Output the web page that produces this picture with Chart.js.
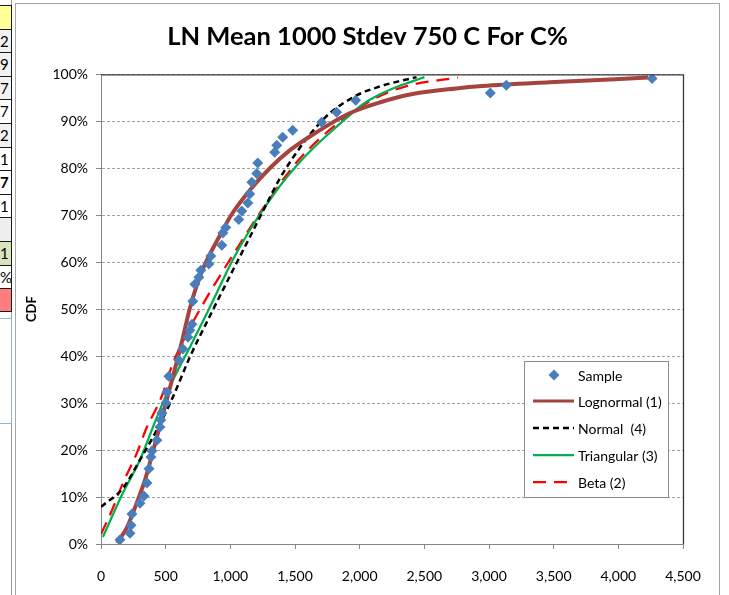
<!DOCTYPE html>
<html>
<head>
<meta charset="utf-8">
<script src="https://cdn.jsdelivr.net/npm/chart.js@4.4.1/dist/chart.umd.min.js"></script>
<style>
html,body{margin:0;padding:0;background:#fff;width:729px;height:595px;overflow:hidden;}
#sheet{position:absolute;left:0;top:5px;width:12px;}
.cell{box-sizing:border-box;height:23.6px;width:12px;border-top:1px solid #1a1a1a;border-right:1px solid #1a1a1a;overflow:hidden;font:15px Lato,"Open Sans",sans-serif;color:#000;text-align:right;padding-right:3px;line-height:22px;white-space:nowrap;}
#tbox{position:absolute;left:-1px;top:318px;width:11px;height:104px;border:1px solid #8eb1e0;background:#fff;}
#vline{position:absolute;left:11px;top:0;width:1px;height:595px;background:#9a9a9a;}
#frame{position:absolute;left:15px;top:3px;width:705px;height:600px;border:1px solid #a6a6a6;box-sizing:border-box;}
#c{position:absolute;left:0;top:0;}
</style>
</head>
<body>
<div id="vline"></div>
<div id="sheet"></div>
<div id="tbox"></div>
<div id="frame"></div>
<canvas id="c" width="729" height="595"></canvas>
<script>
// ---- spreadsheet fragment visible at the left edge ----
const sheetText = ['', '2', '9', '7', '7', '2', '1', '7', '1', '', '1', '%', ''];
const sheetFill = ['#ffff99', '#f2f2f2', '#f2f2f2', '#f2f2f2', '#ffffff', '#f2f2f2', '#ffffff', '#ffffff', '#ffffff', '#eeeeee', '#d8e4bc', '#ffffff', '#ff7c80'];
const sheetBold = [false, false, false, false, false, false, false, true, false, false, false, false, false];

// ---- chart data ----
const title = 'LN Mean 1000 Stdev 750 C For C%';
const yTitle = 'CDF';
const seriesLabels = ['Sample', 'Lognormal (1)', 'Normal  (4)', 'Triangular (3)', 'Beta (2)'];
const xTicks = [0, 500, 1000, 1500, 2000, 2500, 3000, 3500, 4000, 4500];
const yTicks = [0, 10, 20, 30, 40, 50, 60, 70, 80, 90, 100];

const sampleX = [147, 224, 232, 239, 301, 332, 355, 371, 386, 394, 432, 455, 463, 471, 502, 510, 525, 602, 633, 672, 687, 703, 710, 726, 757, 772, 834, 849, 934, 942, 965, 1065, 1089, 1135, 1150, 1166, 1204, 1212, 1343, 1359, 1405, 1482, 1706, 1822, 1969, 3010, 3134, 4261];
const sampleY = [0.9, 2.3, 4.0, 6.4, 8.7, 10.2, 13.0, 16.0, 18.5, 19.8, 22.1, 24.9, 26.4, 27.9, 30.0, 32.3, 35.7, 39.1, 41.5, 44.0, 45.5, 46.8, 51.7, 55.3, 56.8, 58.3, 59.6, 61.3, 63.6, 66.2, 67.4, 69.1, 70.9, 72.6, 74.5, 77.0, 78.9, 81.1, 83.4, 84.9, 86.6, 88.1, 89.8, 91.9, 94.5, 96.0, 97.7, 99.1];

const lognX = [125, 200, 247, 300, 340, 432, 548, 625, 687, 740, 787, 840, 896, 1011, 1150, 1305, 1459, 1668, 1922, 2154, 2409, 2748, 2949, 3466, 4230];
const lognY = [0.2, 3.5, 6.6, 10.5, 13.6, 22.8, 34.8, 43.0, 50.2, 55.0, 58.5, 61.6, 64.5, 70.2, 75.3, 80.0, 83.8, 87.7, 91.7, 94.0, 95.8, 97.0, 97.5, 98.3, 99.3];

const normX = [0, 170, 301, 432, 556, 687, 841, 996, 1150, 1282, 1382, 1513, 1637, 1768, 1976, 2154, 2285, 2440];
const normY = [7.9, 11.9, 17.9, 24.3, 31.3, 39.8, 48.5, 57.0, 65.3, 72.5, 77.8, 83.4, 87.9, 91.7, 95.5, 97.4, 98.4, 99.4];

const triX = [15, 170, 301, 432, 556, 687, 818, 942, 1019, 1150, 1282, 1405, 1536, 1668, 1791, 1910, 2023, 2154, 2285, 2409, 2501];
const triY = [1.5, 10.9, 17.9, 27.0, 34.9, 41.9, 49.1, 56.2, 60.5, 66.8, 72.3, 77.0, 81.3, 85.0, 88.1, 91.0, 93.6, 95.7, 97.3, 98.5, 99.4];

const betaX = [0, 85, 170, 278, 355, 432, 479, 556, 687, 787, 842, 1019, 1204, 1305, 1405, 1536, 1691, 1899, 2100, 2362, 2760];
const betaY = [2.1, 7.2, 13.0, 19.4, 24.9, 29.1, 32.1, 38.5, 46.0, 51.0, 53.6, 61.5, 69.5, 73.5, 77.5, 82.0, 86.3, 91.0, 94.6, 97.5, 99.3];

// build spreadsheet fragment
const sheet = document.getElementById('sheet');
sheetText.forEach((t, i) => {
  const d = document.createElement('div');
  d.className = 'cell';
  d.style.background = sheetFill[i];
  if (sheetBold[i]) d.style.fontWeight = 'bold';
  if (i === sheetText.length - 1) d.style.borderBottom = '1px solid #1a1a1a';
  d.textContent = t;
  sheet.appendChild(d);
});

const pts = (xs, ys) => xs.map((x, i) => ({x: x, y: ys[i]}));
const FONT = 'Lato, "Open Sans", sans-serif';

const lineStyle = [
  null,
  {color: '#a5443f', width: 4, dash: []},
  {color: '#000000', width: 2.5, dash: [6, 4]},
  {color: '#00b050', width: 2.25, dash: []},
  {color: '#ff0000', width: 2.25, dash: [13, 8]}
];
const curveData = [null, pts(lognX, lognY), pts(normX, normY), pts(triX, triY), pts(betaX, betaY)];

const datasets = [{
  label: seriesLabels[0],
  data: pts(sampleX, sampleY),
  showLine: false,
  pointStyle: 'rectRot',
  pointRadius: 5.5,
  pointHoverRadius: 5.5,
  backgroundColor: '#4a7ebb',
  borderColor: '#4a7ebb',
  borderWidth: 0
}];
for (let i = 1; i < seriesLabels.length; i++) {
  datasets.push({
    label: seriesLabels[i],
    data: curveData[i],
    showLine: true,
    pointRadius: 0,
    pointHoverRadius: 0,
    borderColor: lineStyle[i].color,
    backgroundColor: lineStyle[i].color,
    borderWidth: lineStyle[i].width,
    borderDash: lineStyle[i].dash,
    borderCapStyle: 'butt',
    cubicInterpolationMode: 'monotone',
    fill: false
  });
}

const framePlugin = {
  id: 'frame',
  afterDatasetsDraw(chart) {
    const {ctx, chartArea: a} = chart;
    ctx.save();
    ctx.strokeStyle = '#3a3a3a';
    ctx.lineWidth = 1.3;
    ctx.beginPath();
    ctx.moveTo(a.left, a.top + 0.5);
    ctx.lineTo(a.right + 0.5, a.top + 0.5);
    ctx.lineTo(a.right + 0.5, a.bottom);
    ctx.stroke();
    ctx.restore();
  }
};

const legendPlugin = {
  id: 'boxLegend',
  afterDraw(chart) {
    const ctx = chart.ctx;
    const bx = 524.5, by = 361.5, bw = 144, bh = 136;
    ctx.save();
    ctx.fillStyle = '#ffffff';
    ctx.fillRect(bx, by, bw, bh);
    ctx.strokeStyle = '#8c8c8c';
    ctx.lineWidth = 1;
    ctx.strokeRect(bx, by, bw, bh);
    const rows = [375, 401, 428, 455, 482];
    ctx.font = '14px ' + FONT;
    ctx.textBaseline = 'middle';
    ctx.textAlign = 'left';
    chart.data.datasets.forEach((ds, i) => {
      const y = rows[i];
      if (i === 0) {
        ctx.fillStyle = ds.backgroundColor;
        ctx.beginPath();
        ctx.moveTo(554 - 5.5, y);
        ctx.lineTo(554, y - 5.5);
        ctx.lineTo(554 + 5.5, y);
        ctx.lineTo(554, y + 5.5);
        ctx.closePath();
        ctx.fill();
      } else {
        ctx.strokeStyle = ds.borderColor;
        ctx.lineWidth = Math.min(ds.borderWidth, 3);
        ctx.setLineDash(ds.borderDash || []);
        ctx.beginPath();
        ctx.moveTo(533, y);
        ctx.lineTo(574, y);
        ctx.stroke();
        ctx.setLineDash([]);
      }
      ctx.fillStyle = '#000';
      ctx.fillText(ds.label, 578, y + 1);
    });
    ctx.restore();
  }
};

new Chart(document.getElementById('c'), {
  type: 'scatter',
  data: {datasets: datasets},
  options: {
    responsive: false,
    animation: false,
    events: [],
    layout: {padding: {left: 15, top: 3, right: 9, bottom: 0}},
    plugins: {
      legend: {display: false},
      tooltip: {enabled: false},
      title: {
        display: true,
        text: title,
        color: '#000',
        font: {family: FONT, size: 25.5, weight: 'bold', lineHeight: 1.15},
        padding: {top: 19, bottom: 23}
      }
    },
    scales: {
      x: {
        type: 'linear',
        min: xTicks[0],
        max: xTicks[xTicks.length - 1],
        afterBuildTicks: s => { s.ticks = xTicks.map(v => ({value: v})); },
        afterFit: s => { s.height = 51; },
        ticks: {
          color: '#000',
          font: {family: FONT, size: 14},
          padding: 19,
          maxRotation: 0,
          callback: v => v.toLocaleString('en-US')
        },
        grid: {drawOnChartArea: false, drawTicks: true, tickLength: 5, tickColor: '#868686'},
        border: {color: '#868686', width: 1}
      },
      y: {
        type: 'linear',
        min: yTicks[0],
        max: yTicks[yTicks.length - 1],
        afterBuildTicks: s => { s.ticks = yTicks.map(v => ({value: v})); },
        afterFit: s => { s.width = 86; },
        ticks: {
          color: '#000',
          font: {family: FONT, size: 14},
          padding: 8,
          callback: v => v + '%'
        },
        title: {
          display: true,
          text: yTitle,
          color: '#000',
          font: {family: FONT, size: 13, weight: 'bold'},
          padding: {top: 9, bottom: 0}
        },
        grid: {color: '#a0a0a0', lineWidth: 1, drawTicks: true, tickLength: 5, tickColor: '#868686', tickBorderDash: []},
        border: {color: '#868686', width: 1, dash: [3, 2]}
      },
      yR: {
        position: 'right',
        display: true,
        afterFit: s => { s.width = 37; },
        ticks: {display: false},
        grid: {display: false},
        border: {display: false}
      }
    }
  },
  plugins: [framePlugin, legendPlugin]
});
</script>
</body>
</html>
